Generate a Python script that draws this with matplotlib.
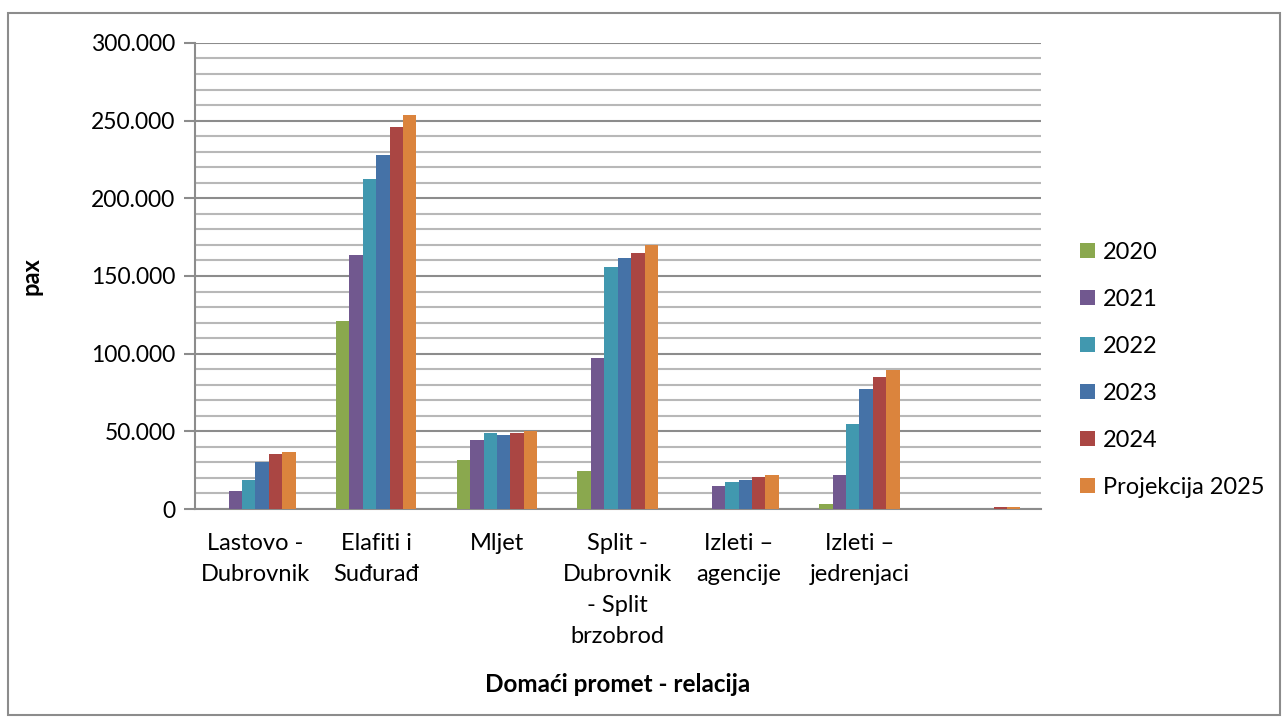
import matplotlib.pyplot as plt
import numpy as np
from matplotlib.ticker import FuncFormatter, MultipleLocator
from matplotlib.patches import Rectangle

plt.rcParams['font.family'] = ['Lato', 'DejaVu Sans']

# data
relacije = ['Lastovo -\nDubrovnik', 'Elafiti i\nSuđurađ', 'Mljet',
            'Split -\nDubrovnik\n- Split\nbrzobrod', 'Izleti –\nagencije',
            'Izleti –\njedrenjaci', '']
godine = ['2020', '2021', '2022', '2023', '2024', 'Projekcija 2025']
v2020 = [0, 121000, 31300, 24500, 0, 3200, 0]
v2021 = [11600, 163700, 44200, 97200, 15000, 21900, 0]
v2022 = [18900, 212500, 48900, 156000, 17400, 54700, 0]
v2023 = [30000, 228000, 47400, 161600, 18900, 77500, 0]
v2024 = [35200, 246000, 48700, 165000, 20600, 85000, 1600]
v2025 = [36900, 253500, 50000, 170000, 21700, 89300, 1600]
boje = ['#8AA84E', '#71588F', '#4198AF', '#4572A7', '#AA4643', '#DB843D']

serije = [v2020, v2021, v2022, v2023, v2024, v2025]

fig = plt.figure(figsize=(12.87, 7.22), dpi=100)
ax = fig.add_axes([0.1515, 0.295, 0.657, 0.6455])

x = np.arange(len(relacije))
w = 1 / 9
for i, (s, c, lab) in enumerate(zip(serije, boje, godine)):
    ax.bar(x + (i - 2.5) * w, s, width=w, color=c, label=lab, zorder=3)

ax.set_xlim(-0.5, len(relacije) - 0.5)
ax.set_ylim(0, 300000)
ax.yaxis.set_major_locator(MultipleLocator(50000))
ax.yaxis.set_minor_locator(MultipleLocator(10000))
ax.yaxis.set_major_formatter(FuncFormatter(lambda v, p: '{:,.0f}'.format(v).replace(',', '.')))
ax.grid(axis='y', which='minor', color='#b8b8b8', linewidth=1.5, zorder=0)
ax.grid(axis='y', which='major', color='#8c8c8c', linewidth=1.5, zorder=0)

ax.set_xticks(x)
ax.set_xticklabels(relacije, fontsize=17, linespacing=1.6, va='top')
ax.tick_params(axis='x', length=0, pad=17)
ax.tick_params(axis='y', which='major', length=8, width=1.5, color='#8c8c8c', labelsize=16.5, pad=6)
ax.tick_params(axis='y', which='minor', length=0)

for side in ['top', 'right']:
    ax.spines[side].set_visible(False)
ax.spines['left'].set_color('#8c8c8c')
ax.spines['left'].set_linewidth(1.5)
ax.spines['bottom'].set_color('#8c8c8c')
ax.spines['bottom'].set_linewidth(1.5)

ax.set_ylabel('pax', fontsize=17, fontweight='bold')
ax.yaxis.set_label_coords(-0.18, 0.5)
fig.text(618 / 1287, 1 - 685 / 722, 'Domaći promet - relacija', fontsize=17.5,
         fontweight='bold', ha='center', va='center')

ax.legend(loc='center left', bbox_to_anchor=(1.022, 0.298), frameon=False,
          fontsize=17, handlelength=0.6, handleheight=0.6, handletextpad=0.35,
          labelspacing=1.1)

fig.patches.append(Rectangle((8 / 1287, 1 - 715 / 722), 1272 / 1287, 702 / 722,
                             transform=fig.transFigure, fill=False,
                             edgecolor='#8c8c8c', linewidth=1.5))

fig.savefig('out.png', dpi=100)
